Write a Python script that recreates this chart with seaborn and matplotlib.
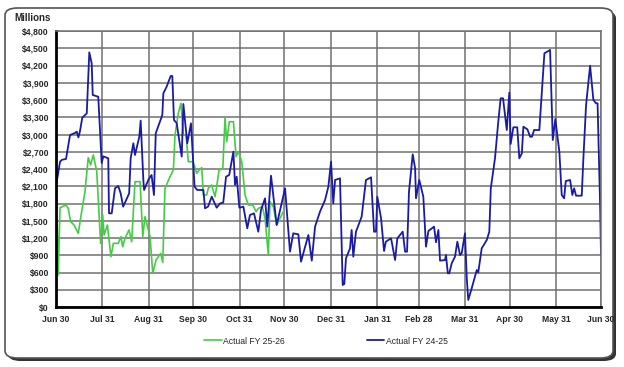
import pandas as pd
import seaborn as sns
from matplotlib import pyplot as plt
from matplotlib.patches import FancyBboxPatch

# days since Jun 30, values in $ millions
blue_days = [0, 2.7, 4, 6.7, 9.4, 12.7, 13.9, 15, 16, 17.6, 20.6, 22.3, 23.9, 24.6, 28.3,
             30.6, 31.7, 35, 35.5, 37.3, 39.5, 41.7, 43.3, 45, 49, 50, 51.8, 52.9, 55.8,
             56.7, 58.5, 59, 61.8, 64, 65.6, 66.8, 69.2, 71.2, 71.9, 74.1, 76.8, 77.9, 79,
             80.8, 84.2, 85.3, 87.9, 90.4, 92.8, 94.6, 98.7, 99.8, 101.8, 104.3, 107.6,
             109.8, 112, 113.9, 116, 118.8, 119.9, 121, 122.8, 125.5, 128.1, 129.9, 132.6,
             135.5, 137.3, 140, 141.5, 144, 147.8, 153.4, 156.7, 158.9, 162.3, 164.1, 169,
             171.3, 173.5, 176.8, 180.2, 182.4, 184.2, 185.7, 186.9, 190.2, 192, 193.1,
             194.2, 196.9, 198, 199.1, 200.9, 204.7, 207.6, 211, 213, 214.3, 215.2, 217.7,
             219.7, 220.9, 224.4, 227.1, 228.6, 232.2, 233.8, 235.1, 236.4, 238.9, 240.5,
             241.1, 243.3, 246, 247.8, 249.4, 253.2, 254.5, 256.1, 257.2, 260.5, 261.2,
             262.4, 263.4, 265, 267.2, 268.8, 270.6, 271.7, 273.9, 275.1, 276.1, 278.4,
             281.8, 282.8, 285.1, 288.5, 290.2, 291.2, 294, 296.2, 297.8, 299.4, 301.9,
             303.6, 304.5, 306.3, 308.9, 310.3, 312, 313, 315.7, 317.5, 318.8, 320.2, 323.7,
             327.1, 330.9, 332.7, 334.4, 337.1, 338.7, 340.3, 341.4, 344.3, 345.8, 347,
             348.3, 352.1, 353.2, 355, 357.7, 359.9, 361.7, 362.7, 364.4, 365]
blue_vals = [2100, 2527, 2560, 2575, 2991, 3026, 3050, 2950, 3050, 3293, 3367, 4429, 4238,
             3687, 3657, 2504, 2620, 2586, 1629, 1629, 2064, 2104, 1977, 1745, 1977, 2586,
             2847, 2644, 2962, 3241, 2209, 2035, 2209, 2296, 1948, 3020, 3194, 3339, 3716,
             3832, 4017, 4017, 3252, 3200, 2615, 3530, 2847, 3194, 2093, 2035, 2035, 1716,
             1745, 1918, 1727, 1800, 1816, 2267, 2296, 2702, 2122, 2267, 1727, 1745, 1368,
             1600, 1629, 1310, 1687, 1890, 1397, 2284, 1426, 2064, 962, 1281, 1264, 788,
             1252, 806, 1397, 1658, 1861, 2093, 2527, 1803, 2209, 2238, 383, 400, 846, 1020,
             1339, 875, 1310, 1571, 2209, 2255, 1310, 1310, 1918, 1542, 974, 1136, 1194, 817,
             1194, 1310, 962, 962, 2006, 2655, 2412, 1890, 2209, 1918, 1049, 1322, 1397,
             1125, 1339, 806, 817, 904, 586, 586, 759, 875, 1136, 904, 933, 1281, 499, 122,
             325, 643, 600, 1020, 1165, 1310, 2064, 2586, 3223, 3629, 3629, 3078, 3727, 2835,
             3125, 3125, 2586, 2673, 3136, 3090, 2962, 2962, 3078, 3078, 4412, 4470, 2904,
             3270, 2702, 1948, 1890, 2191, 2209, 1948, 2064, 1936, 1936, 2586, 3513, 4197,
             3600, 3542, 3542, 1774, 904]

green_days = [0, 1.5, 2.7, 6.7, 8.2, 9.8, 12.1, 14.9, 17.2, 19.4, 21.6, 23.2, 25, 27.3,
              29.9, 31.3, 32.2, 34.4, 36.8, 38.4, 41.7, 43.5, 44.7, 46.2, 48.9, 50.7, 52.9,
              56.3, 58.1, 59.6, 63, 64.8, 67, 70.1, 71.5, 73, 76.4, 78.6, 79.7, 81.9, 83.7,
              85.3, 87.1, 88.6, 91.8, 94.2, 96, 97.6, 98.7, 100.9, 102, 104.3, 106.5, 107.6,
              109.2, 111.7, 113.2, 114.3, 116.1, 118.8, 120.6, 122.1, 124.4, 126.6, 128.8,
              131.8, 134, 135.5, 138.2, 140, 142.2, 143.3, 145.6, 147.8, 152.2]
green_vals = [2440, 557, 1727, 1774, 1716, 1484, 1426, 1281, 1658, 2006, 2597, 2470, 2644,
              2354, 1107, 1600, 1252, 1426, 875, 1107, 1107, 1223, 1049, 1194, 1339, 1136,
              2180, 2180, 1223, 1571, 1223, 586, 817, 933, 777, 2064, 2267, 2383, 2991, 3368,
              3542, 2991, 2991, 2527, 2527, 2325, 2383, 2423, 1948, 1948, 2064, 2122, 1918,
              2093, 2383, 2400, 3293, 2876, 3223, 3223, 2615, 2702, 2527, 1948, 1774, 1774,
              1658, 1716, 1745, 1542, 904, 1832, 1745, 1426, 1658]

month_ends = pd.date_range("2024-06-30", "2025-06-30", freq="ME")
tick_pos = [(d - month_ends[0]).days for d in month_ends]
tick_lab = [d.strftime("%b %d") for d in month_ends]

sns.set_style("white")
plt.rcParams["font.family"] = ["Liberation Sans", "DejaVu Sans"]

fig = plt.figure(figsize=(6.24, 3.67), dpi=100)
W, H = 624, 367

# rounded frame with shadow
shadow = FancyBboxPatch((8 / W, 6 / H), 608 / W, 350 / H, boxstyle="round,pad=0,rounding_size=0.02",
                        transform=fig.transFigure, facecolor="#333333", edgecolor="none", zorder=-2)
frame = FancyBboxPatch((5 / W, 9 / H), 608 / W, 350 / H, boxstyle="round,pad=0,rounding_size=0.02",
                       transform=fig.transFigure, facecolor="white", edgecolor="#555555",
                       linewidth=1.2, zorder=-1)
fig.patches.extend([shadow, frame])

ax = fig.add_axes([56 / W, 1 - 307 / H, 545 / W, 276 / H])
ax.set_facecolor("none")
ax.set_zorder(2)

sns.lineplot(x=green_days, y=green_vals, ax=ax, color="#44cc44", linewidth=1.2,
             label="Actual FY 25-26")
sns.lineplot(x=blue_days, y=blue_vals, ax=ax, color="#1a1aa8", linewidth=1.3,
             label="Actual FY 24-25")

ax.set_xlim(0, 365)
ax.set_ylim(0, 4800)
ax.set_yticks(range(0, 4801, 300))
ax.set_yticklabels([f"${v:,}" for v in range(0, 4801, 300)], fontsize=6.2, fontweight="bold")
ax.set_xticks(tick_pos)
ax.set_xticklabels(tick_lab, fontsize=6.2, fontweight="bold")
ax.tick_params(axis="both", length=3, width=1, color="black", pad=2, direction="out")
ax.tick_params(axis="x", pad=3)
ax.grid(True, color="#707070", linewidth=1.1)
ax.set_axisbelow(True)
for s in ["top", "right"]:
    ax.spines[s].set_color("#707070")
    ax.spines[s].set_linewidth(1.1)
for s in ["left", "bottom"]:
    ax.spines[s].set_color("black")
    ax.spines[s].set_linewidth(2)
ax.set_xlabel("")
ax.set_ylabel("")

fig.text(14 / W, 1 - 18 / H, "Millions", fontsize=7, fontweight="bold", va="center", ha="left")

handles, labels = ax.get_legend_handles_labels()
ax.get_legend().remove()
fig.legend(handles, labels, loc="center", bbox_to_anchor=(326 / W, 1 - 341 / H), ncol=2,
           frameon=False, fontsize=6.2, handlelength=2.0, handletextpad=0.15,
           columnspacing=9.6)

plt.savefig("out.png", dpi=100)
plt.close()
